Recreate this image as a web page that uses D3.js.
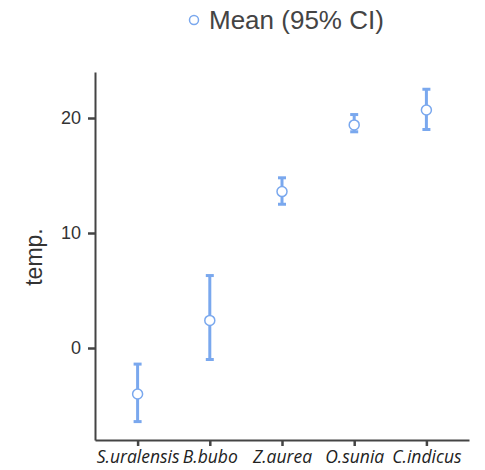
<!DOCTYPE html>
<html><head><meta charset="utf-8">
<script src="https://cdn.jsdelivr.net/npm/d3@7"></script>
<style>body{margin:0;background:#fff}svg{display:block}</style>
</head><body>
<script>
const categories = ["S.uralensis","B.bubo","Z.aurea","O.sunia","C.indicus"];
const means = [-4.0, 2.4, 13.6, 19.4, 20.7];
const lowers = [-6.4, -1.0, 12.5, 18.8, 19.0];
const uppers = [-1.4, 6.3, 14.8, 20.3, 22.5];
const yTicks = [0, 10, 20];
const yTitle = "temp.";
const legendLabel = "Mean (95% CI)";

const W = 485, H = 470;
const blue = "#7aa8ee";
const svg = d3.select("body").append("svg").attr("width", W).attr("height", H);

const x = d3.scalePoint().domain(categories).range([95, 469]).padding(0.59);
const y = d3.scaleLinear().domain([-8, 24]).range([440, 72]);

// axes
const yAxis = svg.append("g").attr("transform","translate(95,0)")
  .call(d3.axisLeft(y).tickValues(yTicks).tickSize(7).tickPadding(7).tickSizeOuter(0));
const xAxis = svg.append("g").attr("transform","translate(0,440)")
  .call(d3.axisBottom(x).tickSize(6).tickPadding(5).tickSizeOuter(0));
[yAxis, xAxis].forEach(g => {
  g.select(".domain").attr("stroke","#444").attr("stroke-width",2);
  g.selectAll(".tick line").attr("stroke","#444").attr("stroke-width",2.5);
});
yAxis.selectAll(".tick text").attr("font-family","Arial, 'Liberation Sans', sans-serif")
  .attr("font-size",18).attr("fill","#333");
xAxis.selectAll(".tick text").attr("font-family","'Open Sans', sans-serif")
  .attr("font-style","italic").attr("font-size",17.5).attr("fill","#222");

svg.append("text").attr("transform","translate(42,257) rotate(-90)")
  .attr("text-anchor","middle").attr("font-family","Arial, 'Liberation Sans', sans-serif")
  .attr("font-size",23).attr("fill","#333").text(yTitle);

// error bars
const g = svg.append("g");
categories.forEach((c,i) => {
  const cx = x(c);
  g.append("line").attr("x1",cx).attr("x2",cx).attr("y1",y(lowers[i])).attr("y2",y(uppers[i]))
    .attr("stroke",blue).attr("stroke-width",3);
  [lowers[i], uppers[i]].forEach(v => {
    g.append("line").attr("x1",cx-4).attr("x2",cx+4).attr("y1",y(v)).attr("y2",y(v))
      .attr("stroke",blue).attr("stroke-width",3);
  });
  g.append("circle").attr("cx",cx).attr("cy",y(means[i])).attr("r",5)
    .attr("fill","#fff").attr("stroke",blue).attr("stroke-width",1.5);
});

// legend
svg.append("circle").attr("cx",194).attr("cy",20).attr("r",4.5)
  .attr("fill","#fff").attr("stroke",blue).attr("stroke-width",1.5);
svg.append("text").attr("x",209).attr("y",29).attr("font-family","Arial, 'Liberation Sans', sans-serif")
  .attr("font-size",26).attr("fill","#444").text(legendLabel);
</script>
</body></html>
